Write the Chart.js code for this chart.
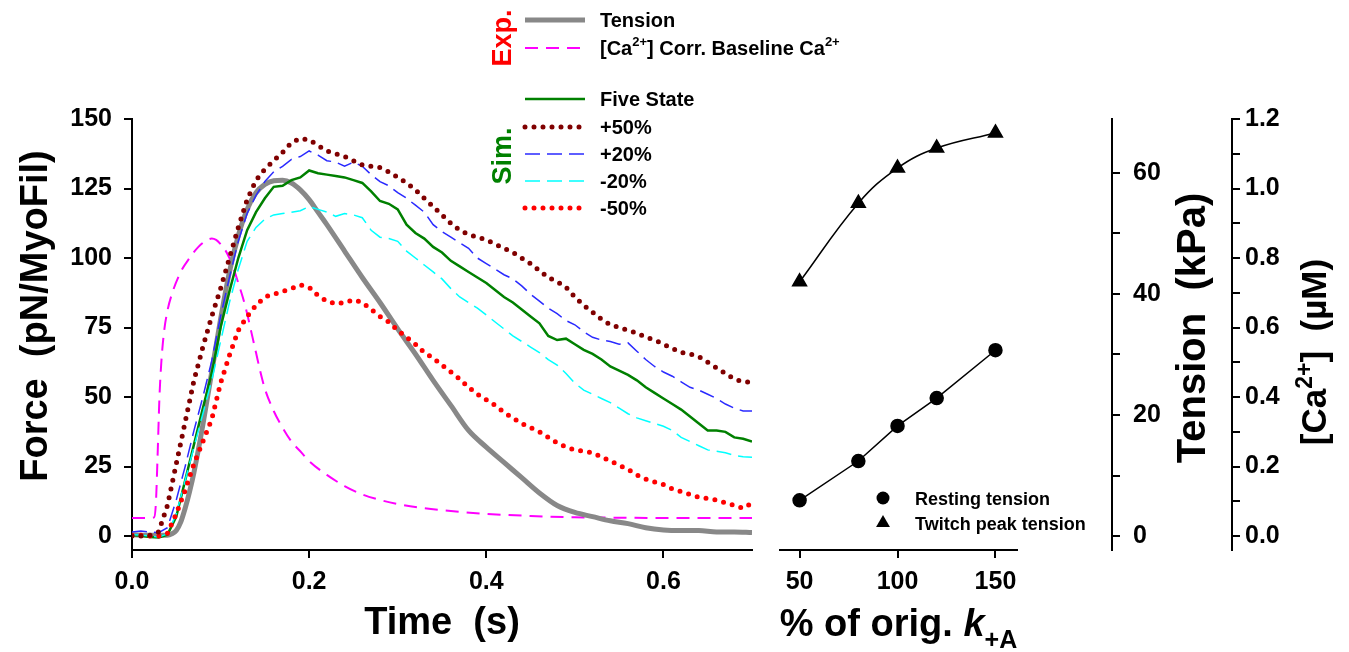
<!DOCTYPE html>
<html>
<head>
<meta charset="utf-8">
<script src="https://cdn.jsdelivr.net/npm/chart.js@4.4.1/dist/chart.umd.min.js"></script>
<style>
html, body { margin: 0; padding: 0; background: #ffffff; }
#wrap { position: relative; width: 1349px; height: 652px; overflow: hidden; background: #ffffff; }
canvas { position: absolute; top: 0; }
#c1 { left: 0; width: 1349px; height: 652px; }
#c2 { left: 760px; width: 589px; height: 652px; }
</style>
</head>
<body>
<div id="wrap">
<canvas id="c1" width="1349" height="652"></canvas>
<canvas id="c2" width="589" height="652"></canvas>
</div>
<script>
// ---------------- DATA ----------------
// Experimental twitch tension (pN/MyoFil) vs time (s)
const tensionTime = [0, 0.02, 0.04, 0.045, 0.05, 0.055, 0.06, 0.065, 0.07, 0.08,
  0.09, 0.10, 0.11, 0.12, 0.13, 0.14, 0.15, 0.16, 0.17, 0.18,
  0.19, 0.20, 0.21, 0.22, 0.24, 0.26, 0.28, 0.30, 0.32, 0.34,
  0.36, 0.38, 0.40, 0.42, 0.44, 0.46, 0.48, 0.50, 0.52, 0.54,
  0.56, 0.58, 0.60, 0.62, 0.64, 0.66, 0.68, 0.70];
const tensionForce = [0.5, 0.3, 0.3, 0.8, 2, 5, 10, 16, 23, 40,
  59, 78, 95, 108, 117.5, 123.5, 126.5, 127.8, 128, 127,
  124.5, 121, 116.5, 112, 102.5, 93, 84, 74.5, 65.5, 56,
  47, 38, 32, 26.5, 21, 15.5, 11, 8.5, 7, 5.5,
  4.5, 3, 2.2, 2, 2, 1.5, 1.5, 1.3];

// Experimental [Ca2+] (uM), corrected baseline
const caTime = [0, 0.02, 0.025, 0.027, 0.029, 0.031, 0.033, 0.036, 0.040, 0.045,
  0.055, 0.065, 0.075, 0.085, 0.09, 0.095, 0.10, 0.105, 0.11, 0.115,
  0.12, 0.125, 0.13, 0.135, 0.14, 0.145, 0.15, 0.16, 0.17, 0.18,
  0.19, 0.20, 0.22, 0.24, 0.26, 0.28, 0.30, 0.33, 0.36, 0.40,
  0.45, 0.50, 0.55, 0.60, 0.65, 0.70];
const caConc = [0.052, 0.052, 0.054, 0.096, 0.24, 0.40, 0.496, 0.584, 0.648, 0.696,
  0.76, 0.80, 0.832, 0.852, 0.856, 0.852, 0.84, 0.824, 0.80, 0.768,
  0.728, 0.688, 0.64, 0.584, 0.528, 0.472, 0.424, 0.36, 0.312, 0.272,
  0.244, 0.216, 0.176, 0.144, 0.12, 0.104, 0.092, 0.08, 0.072, 0.064,
  0.058, 0.054, 0.053, 0.052, 0.052, 0.052];

// Simulations (pN/MyoFil)
const simTime = [0.00, 0.01, 0.02, 0.03, 0.04, 0.05, 0.06, 0.07, 0.08, 0.09,
  0.10, 0.11, 0.12, 0.13, 0.14, 0.15, 0.16, 0.17, 0.18, 0.19,
  0.20, 0.21, 0.22, 0.23, 0.24, 0.25, 0.26, 0.27, 0.28, 0.29,
  0.30, 0.31, 0.32, 0.33, 0.34, 0.35, 0.36, 0.37, 0.38, 0.39,
  0.40, 0.41, 0.42, 0.43, 0.44, 0.45, 0.46, 0.47, 0.48, 0.49,
  0.50, 0.51, 0.52, 0.53, 0.54, 0.55, 0.56, 0.57, 0.58, 0.59,
  0.60, 0.61, 0.62, 0.63, 0.64, 0.65, 0.66, 0.67, 0.68, 0.69,
  0.70];
const fiveState = [0.3, 0.2, -0.3, -0.5, 0.5, 7, 20, 33, 46, 58.6,
  75, 88, 100, 110, 116.5, 121.5, 125.6, 126, 128, 129,
  131.5, 130.5, 130, 129.5, 129, 128, 127, 124, 120.5, 119.5,
  117.5, 112, 109, 107, 104, 102, 99, 97, 95, 93,
  91, 88.5, 86, 84, 81.5, 79, 76.5, 72, 70.5, 71,
  69, 67, 65.5, 63.5, 61, 59.5, 58, 56, 53.5, 51.5,
  49.5, 47.5, 45.5, 43, 40.5, 38, 38, 37.5, 35.5, 35,
  34];
const plus50 = [0, 0, 0.3, 1.5, 11, 26, 41, 56, 68, 79,
  89, 100, 111, 121, 128, 132, 135, 138, 141.5, 143,
  142.5, 140.5, 138.5, 137.5, 136.5, 135, 133.5, 133, 132.5, 131,
  129, 127, 124.5, 121.5, 118.5, 115.5, 112.5, 110, 108.5, 107.5,
  106.5, 105, 103.5, 102, 100, 98, 95.5, 93, 91.5, 89.5,
  86, 83, 80.5, 78, 76, 75, 74, 73, 71.5, 70.5,
  69, 67.5, 66, 65.5, 64.5, 62.5, 60.5, 58.5, 56.5, 55.5,
  55.4];
const plus20 = [1.5, 1.8, 1.5, 1.2, 3, 13, 25, 38, 50, 63,
  79, 93, 106, 116, 122.5, 127.5, 131, 133, 135.5, 136.5,
  138.5, 137, 135, 134.5, 133, 134.5, 133, 130, 127.5, 126,
  123.5, 121.5, 119, 116.5, 112, 109.5, 107.5, 105.5, 103.5, 100,
  98, 96, 94, 92.5, 90, 87, 84.5, 82, 80, 77.5,
  76, 73.5, 71.5, 70.5, 70, 69, 69.5, 66.5, 63.5, 61,
  59, 57.5, 55.5, 53.5, 52.5, 51, 49.5, 47.5, 46, 45,
  45];
const minus20 = [0.5, 0.4, 0, -0.3, 0.8, 8, 20, 32, 44, 56,
  70, 84, 96, 106, 111, 114, 115.5, 116, 116.5, 117,
  118.5, 117.5, 116.5, 115, 116, 115.5, 114.5, 110, 107.5, 107,
  106, 102.5, 100, 97.5, 95, 92.5, 89, 86, 84, 82,
  79.5, 77, 74.5, 72, 70, 68, 66, 63.5, 61.5, 58.5,
  55, 52.5, 51, 49.5, 48, 46, 44, 42.5, 41.5, 40.5,
  39.5, 38, 35.5, 34, 32.5, 31, 30.5, 30, 29, 28.5,
  28.4];
const minus50 = [0.3, 0.3, 0, 0, 1, 8, 16.5, 26, 34, 42,
  55, 65, 74, 79, 83, 86, 87, 88, 89, 90.3,
  89.5, 86.5, 84.5, 83.5, 84, 85, 84, 81.5, 79, 77,
  74, 71.5, 69, 66, 64, 61.5, 59, 56.5, 53.5, 51,
  49, 47, 44.5, 42.5, 40.5, 39, 37.5, 35.5, 33.5, 32,
  31, 30.5, 30, 28.5, 27, 25.5, 24, 22, 20.5, 19.5,
  18.5, 17, 16, 15, 14, 13.5, 13, 12, 11, 10,
  11.9];

// Right panel: % of original k+A vs tension (kPa)
const kPercent = [50, 80, 100, 120, 150];
const restingTension = [5.9, 12.4, 18.2, 22.8, 30.7];
const twitchPeakTension = [42.0, 55.0, 60.8, 64.1, 66.6];

// Tick settings
const forceTickStep = 25;
const timeTickStep = 0.2;
const kTickStep = 50;
const kPaTickStep = 10;
const caTickStep = 0.1;

// ---------------- HELPERS ----------------
const FONT = '"Liberation Sans", Arial, Helvetica, sans-serif';
function xy(xs, ys) { return xs.map((x, i) => ({ x: x, y: ys[i] })); }
function fontStr(p) {
  return (p.italic ? 'italic ' : '') + 'bold ' + p.size + 'px ' + FONT;
}
function drawRich(ctx, parts, x, y, align) {
  let w = 0;
  for (const p of parts) { ctx.font = fontStr(p); w += ctx.measureText(p.t).width; }
  let cx = align === 'center' ? x - w / 2 : x;
  ctx.textAlign = 'left';
  ctx.textBaseline = 'alphabetic';
  for (const p of parts) {
    ctx.font = fontStr(p);
    ctx.fillText(p.t, cx, y + (p.dy || 0));
    cx += ctx.measureText(p.t).width;
  }
}
const tickFont = { family: FONT, size: 25, weight: 'bold' };
const titleFont = { family: FONT, size: 38, weight: 'bold' };
const axisLine = { display: true, color: '#000000', width: 2 };
const tickGrid = { drawOnChartArea: false, drawTicks: true, tickLength: 8, color: '#000000', lineWidth: 2 };

// ---------------- LEFT CHART ----------------
const legendPlugin = {
  id: 'customLegend',
  afterDraw(chart) {
    const ctx = chart.ctx;
    const find = (lbl) => chart.data.datasets.find(d => d.label === lbl);
    const rows = [
      { label: 'Tension', y: 20, parts: [{ t: 'Tension', size: 20 }] },
      { label: '[Ca2+] Corr. Baseline Ca2+', y: 48, parts: [
        { t: '[Ca', size: 20 }, { t: '2+', size: 13, dy: -9 }, { t: '] Corr. Baseline Ca', size: 20 }, { t: '2+', size: 13, dy: -9 }] },
      { label: 'Five State', y: 99, parts: [{ t: 'Five State', size: 20 }] },
      { label: '+50%', y: 127, parts: [{ t: '+50%', size: 20 }] },
      { label: '+20%', y: 154, parts: [{ t: '+20%', size: 20 }] },
      { label: '-20%', y: 181, parts: [{ t: '-20%', size: 20 }] },
      { label: '-50%', y: 208, parts: [{ t: '-50%', size: 20 }] }
    ];
    ctx.save();
    for (const r of rows) {
      const ds = find(r.label);
      ctx.save();
      ctx.strokeStyle = ds.borderColor;
      ctx.lineWidth = ds.borderWidth;
      ctx.lineCap = ds.borderCapStyle || 'butt';
      ctx.setLineDash(ds.borderDash || []);
      ctx.beginPath();
      ctx.moveTo(525, r.y);
      ctx.lineTo(585, r.y);
      ctx.stroke();
      ctx.restore();
      ctx.fillStyle = '#000000';
      drawRich(ctx, r.parts, 600, r.y + 7, 'left');
    }
    // group labels
    ctx.fillStyle = '#ff0000';
    ctx.save();
    ctx.translate(511, 38);
    ctx.rotate(-Math.PI / 2);
    drawRich(ctx, [{ t: 'Exp.', size: 27 }], 0, 0, 'center');
    ctx.restore();
    ctx.fillStyle = '#008000';
    ctx.save();
    ctx.translate(511, 156);
    ctx.rotate(-Math.PI / 2);
    drawRich(ctx, [{ t: 'Sim.', size: 27 }], 0, 0, 'center');
    ctx.restore();
    // Force axis title
    ctx.fillStyle = '#000000';
    ctx.save();
    ctx.translate(47, 316);
    ctx.rotate(-Math.PI / 2);
    drawRich(ctx, [{ t: 'Force  (pN/MyoFil)', size: 38 }], 0, 0, 'center');
    ctx.restore();
    ctx.restore();
  }
};

const simLine = { pointRadius: 0, fill: false, tension: 0 };

new Chart(document.getElementById('c1'), {
  type: 'line',
  data: {
    datasets: [
      Object.assign({ label: '+50%', data: xy(simTime, plus50), borderColor: '#800000', borderWidth: 5, borderDash: [0, 9], borderCapStyle: 'round' }, simLine),
      Object.assign({ label: '-50%', data: xy(simTime, minus50), borderColor: '#ff0000', borderWidth: 5, borderDash: [0, 9], borderCapStyle: 'round' }, simLine),
      Object.assign({ label: '+20%', data: xy(simTime, plus20), borderColor: '#2a2aff', borderWidth: 1.5, borderDash: [15, 7] }, simLine),
      Object.assign({ label: '-20%', data: xy(simTime, minus20), borderColor: '#00ffff', borderWidth: 1.5, borderDash: [15, 7] }, simLine),
      Object.assign({ label: 'Five State', data: xy(simTime, fiveState), borderColor: '#008000', borderWidth: 2.5 }, simLine),
      { label: 'Tension', data: xy(tensionTime, tensionForce), borderColor: '#888888', borderWidth: 5, pointRadius: 0, cubicInterpolationMode: 'monotone', fill: false },
      { label: '[Ca2+] Corr. Baseline Ca2+', data: xy(caTime, caConc), yAxisID: 'ca', borderColor: '#ff00ff', borderWidth: 2, borderDash: [13, 8], pointRadius: 0, cubicInterpolationMode: 'monotone', fill: false }
    ]
  },
  options: {
    responsive: false, animation: false, devicePixelRatio: 1,
    layout: { padding: { left: 0, top: 119, right: 597, bottom: 0 } },
    plugins: { legend: { display: false }, tooltip: { enabled: false } },
    scales: {
      x: {
        type: 'linear', min: 0, max: 0.7,
        afterFit: (s) => { s.height = 102; },
        border: axisLine, grid: tickGrid,
        ticks: { stepSize: timeTickStep, includeBounds: false, autoSkip: false, maxRotation: 0, color: '#000000', font: tickFont, padding: 9,
          callback: (v) => Number(v).toFixed(1) },
        title: { display: true, text: 'Time  (s)', color: '#000000', font: titleFont, padding: { top: 0, bottom: 6 } }
      },
      y: {
        type: 'linear', position: 'left', min: -5, max: 150,
        afterFit: (s) => { s.width = 132; },
        border: axisLine, grid: tickGrid,
        ticks: { stepSize: forceTickStep, includeBounds: false, autoSkip: false, color: '#000000', font: tickFont, padding: 12 },
        title: { display: false }
      },
      ca: { type: 'linear', axis: 'y', display: false, min: -0.04, max: 1.2 }
    }
  },
  plugins: [legendPlugin]
});

// ---------------- RIGHT CHART ----------------
const rightPlugin = {
  id: 'rightDecor',
  afterDraw(chart) {
    const ctx = chart.ctx;
    const ca = chart.chartArea;
    ctx.save();
    ctx.fillStyle = '#000000';
    // legend markers
    const mx = ca.left + 103;
    ctx.beginPath();
    ctx.arc(mx, 498, 6.5, 0, Math.PI * 2);
    ctx.fill();
    const r = 8;
    ctx.beginPath();
    ctx.moveTo(mx, 523 - r);
    ctx.lineTo(mx + Math.sin(2 * Math.PI / 3) * r, 523 - Math.cos(2 * Math.PI / 3) * r);
    ctx.lineTo(mx + Math.sin(4 * Math.PI / 3) * r, 523 - Math.cos(4 * Math.PI / 3) * r);
    ctx.closePath();
    ctx.fill();
    drawRich(ctx, [{ t: 'Resting tension', size: 18 }], ca.left + 135, 498 + 6.5, 'left');
    drawRich(ctx, [{ t: 'Twitch peak tension', size: 18 }], ca.left + 135, 523 + 6.5, 'left');
    // x title
    drawRich(ctx, [{ t: '% of orig. ', size: 38 }, { t: 'k', size: 38, italic: true }, { t: '+A', size: 25, dy: 12 }],
      (ca.left + ca.right) / 2, 636, 'center');
    // Tension title
    const ts = chart.scales.tension;
    ctx.save();
    ctx.translate(ts.left + 93, 328);
    ctx.rotate(-Math.PI / 2);
    drawRich(ctx, [{ t: 'Tension  (kPa)', size: 40 }], 0, 0, 'center');
    ctx.restore();
    // Ca title
    const cs = chart.scales.ca;
    ctx.save();
    ctx.translate(cs.left + 94, 352);
    ctx.rotate(-Math.PI / 2);
    drawRich(ctx, [{ t: '[Ca', size: 35 }, { t: '2+', size: 23, dy: -14 }, { t: ']  (\u00B5M)', size: 35 }], 0, 0, 'center');
    ctx.restore();
    ctx.restore();
  }
};

new Chart(document.getElementById('c2'), {
  type: 'line',
  data: {
    datasets: [
      { label: 'Resting tension', data: xy(kPercent, restingTension), yAxisID: 'tension', borderColor: '#000000', borderWidth: 1.5,
        pointStyle: 'circle', pointRadius: 6.5, pointBackgroundColor: '#000000', pointBorderColor: '#000000', tension: 0, fill: false },
      { label: 'Twitch peak tension', data: xy(kPercent, twitchPeakTension), yAxisID: 'tension', borderColor: '#000000', borderWidth: 1.5,
        pointStyle: 'triangle', pointRadius: 8, pointBackgroundColor: '#000000', pointBorderColor: '#000000', tension: 0.4, fill: false }
    ]
  },
  options: {
    responsive: false, animation: false, devicePixelRatio: 1,
    layout: { padding: { left: 20, top: 119, right: 0, bottom: 0 } },
    plugins: { legend: { display: false }, tooltip: { enabled: false } },
    scales: {
      x: {
        type: 'linear', min: 40, max: 161,
        afterFit: (s) => { s.height = 102; },
        border: axisLine, grid: tickGrid,
        ticks: { stepSize: kTickStep, includeBounds: false, autoSkip: false, maxRotation: 0, color: '#000000', font: tickFont, padding: 9 }
      },
      spacer: {
        type: 'linear', axis: 'y', position: 'right', weight: 0, display: true, min: 0, max: 1,
        grid: { display: false }, border: { display: false }, ticks: { display: false },
        afterFit: (s) => { s.width = 95; }
      },
      tension: {
        type: 'linear', axis: 'y', position: 'right', weight: 1, min: -2.3, max: 68.9,
        afterFit: (s) => { s.width = 120; },
        border: axisLine, grid: tickGrid,
        ticks: { stepSize: kPaTickStep, includeBounds: false, autoSkip: false, color: '#000000', font: tickFont, padding: 13,
          callback: (v) => (Math.round(v) % 20 === 0 ? String(Math.round(v)) : '') }
      },
      ca: {
        type: 'linear', axis: 'y', position: 'right', weight: 2, min: -0.04, max: 1.2,
        afterFit: (s) => { s.width = 117; },
        border: axisLine, grid: tickGrid,
        ticks: { stepSize: caTickStep, includeBounds: false, autoSkip: false, color: '#000000', font: tickFont, padding: 5,
          callback: (v) => (Math.round(v * 10) % 2 === 0 ? Number(v).toFixed(1) : '') }
      }
    }
  },
  plugins: [rightPlugin]
});
</script>
</body>
</html>
